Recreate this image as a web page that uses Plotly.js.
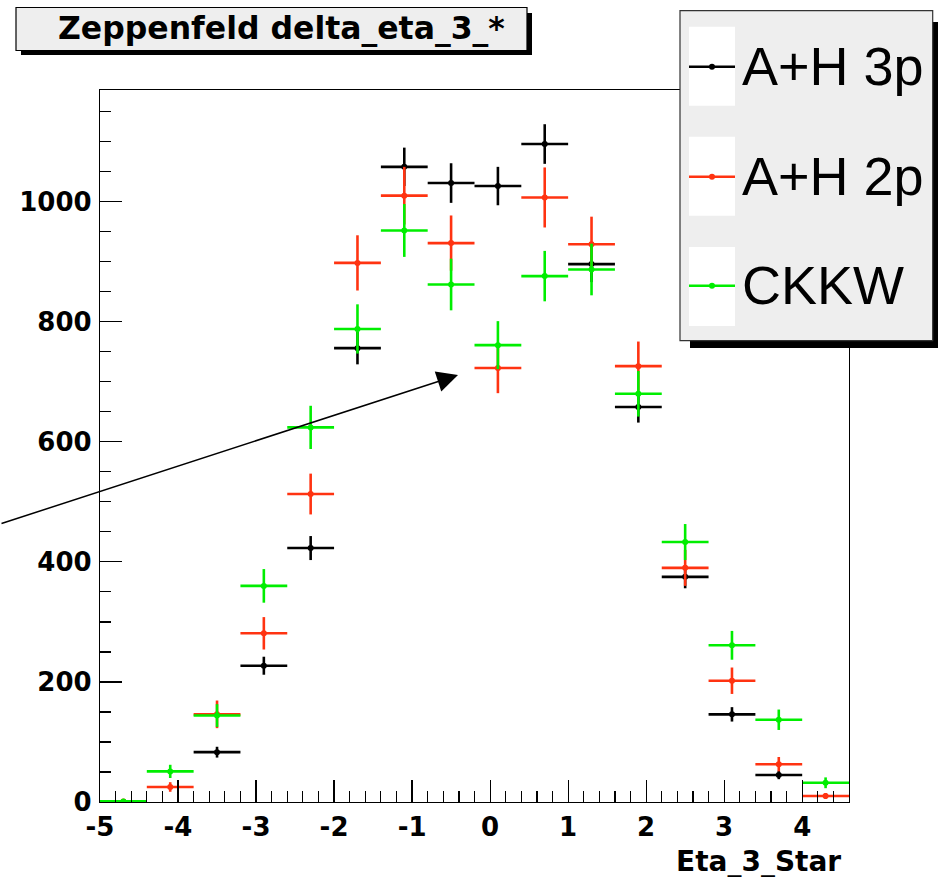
<!DOCTYPE html>
<html>
<head>
<meta charset="utf-8">
<script src="https://cdn.plot.ly/plotly-3.0.1.min.js"></script>
<style>html,body{margin:0;padding:0;background:#fff;}#chart{width:944px;height:877px;}</style>
</head>
<body>
<div id="chart"></div>
<script>
// ---- data ----
var binCenters = [-4.7, -4.1, -3.5, -2.9, -2.3, -1.7, -1.1, -0.5, 0.1, 0.7, 1.3, 1.9, 2.5, 3.1, 3.7, 4.3];
var binHalfWidth = 0.3;
var seriesNames = ["A+H 3p", "A+H 2p", "CKKW"];
var ah3pValues = [null, null, 83, 227, 423, 756, 1058, 1031, 1026, 1096, 896, 658, 375, 146, 45, null];
var ah3pErrors = [0, 0, 9, 15, 20, 27, 32, 33, 32, 33, 30, 26, 19, 12, 7, 0];
var ah2pValues = [1, 25, 146, 281, 513, 898, 1010, 931, 723, 1007, 929, 726, 390, 202, 63, 10];
var ah2pErrors = [1, 8, 23, 27, 34, 46, 48, 46, 42, 50, 46, 41, 30, 22, 12, 5];
var ckkwValues = [1, 51, 144, 360, 624, 788, 952, 862, 761, 876, 887, 680, 433, 261, 137, 32];
var ckkwErrors = [1, 11, 19, 28, 36, 41, 44, 43, 40, 42, 43, 38, 30, 24, 17, 9];
var xTickVals = [-5, -4, -3, -2, -1, 0, 1, 2, 3, 4];
var xTickText = ["-5", "-4", "-3", "-2", "-1", "0", "1", "2", "3", "4"];
var yTickVals = [0, 200, 400, 600, 800, 1000];
var yTickText = ["0", "200", "400", "600", "800", "1000"];
var chartTitle = "Zeppenfeld delta_eta_3_*";
var xTitle = "Eta_3_Star";

// ---- styling / layout ----
var colors = ["#000000", "#ff3311", "#00ee00"];
var L = 100, T = 90, W = 749, H = 712;
function px(x) { return (x - L) / W; }
function py(y) { return (T + H - y) / H; }

function makeTrace(vals, errs, i) {
  return {
    type: "scatter", mode: "markers", name: seriesNames[i],
    x: binCenters, y: vals,
    marker: {color: colors[i], size: 6},
    error_x: {type: "constant", value: binHalfWidth, width: 0, thickness: 2.6, color: colors[i]},
    error_y: {type: "data", array: errs, visible: true, width: 0, thickness: 2.6, color: colors[i]},
    showlegend: false, hoverinfo: "x+y"
  };
}
var data = [
  makeTrace(ah3pValues, ah3pErrors, 0),
  makeTrace(ah2pValues, ah2pErrors, 1),
  makeTrace(ckkwValues, ckkwErrors, 2)
];

var tickFont = {family: "DejaVu Sans", size: 26, color: "#000", weight: "bold"};
var shapes = [];
var annotations = [];

function rect(x0, y0, x1, y1, fill, line) {
  shapes.push({type: "rect", xref: "paper", yref: "paper", layer: "above",
    x0: px(x0), x1: px(x1), y0: py(y1), y1: py(y0),
    fillcolor: fill, line: line ? {color: line, width: 1.2} : {width: 0}});
}
// title box with shadow
rect(21, 13, 532, 55, "#000", null);
rect(16, 7.5, 527, 50.5, "#eeeeee", "#000");
annotations.push({xref: "paper", yref: "paper", x: px(281), y: py(28.5), xanchor: "center", yanchor: "middle",
  text: chartTitle, showarrow: false, font: {family: "DejaVu Sans", size: 31.5, color: "#000", weight: "bold"}});

// legend box with shadow
rect(690, 22, 938, 348, "#000", null);
rect(680, 10.7, 932.7, 340.7, "#eeeeee", "#333");
var rowTop = [26.7, 136.7, 247];
var rowLineY = [66.7, 176.7, 285.7];
for (var i = 0; i < 3; i++) {
  rect(689, rowTop[i], 735, rowTop[i] + 79, "#ffffff", null);
  shapes.push({type: "line", xref: "paper", yref: "paper", layer: "above",
    x0: px(689), x1: px(735), y0: py(rowLineY[i]), y1: py(rowLineY[i]),
    line: {color: colors[i], width: 2.6}});
  shapes.push({type: "circle", xref: "paper", yref: "paper", layer: "above",
    x0: px(709), x1: px(715), y0: py(rowLineY[i] + 3), y1: py(rowLineY[i] - 3),
    fillcolor: colors[i], line: {color: colors[i], width: 0}});
  annotations.push({xref: "paper", yref: "paper", x: px(740), y: py(rowLineY[i] - 1), xanchor: "left", yanchor: "middle",
    text: seriesNames[i], showarrow: false, font: {family: "Liberation Sans", size: 54, color: "#000"}});
}

// arrow
annotations.push({xref: "paper", yref: "paper", x: px(458), y: py(375), text: "", showarrow: true,
  axref: "pixel", ayref: "pixel", ax: -470, ay: 149, arrowhead: 2, arrowsize: 2.8, arrowwidth: 1.5,
  arrowcolor: "#000", standoff: 0});

// x-axis title (right aligned like ROOT)
annotations.push({xref: "paper", yref: "paper", x: px(843), y: py(861), xanchor: "right", yanchor: "middle",
  text: xTitle, showarrow: false, font: {family: "DejaVu Sans", size: 28, color: "#000", weight: "bold"}});

var layout = {
  width: 944, height: 877,
  margin: {l: L, r: 944 - L - W, t: T, b: 877 - T - H, pad: 0},
  paper_bgcolor: "#fff", plot_bgcolor: "#fff",
  showlegend: false,
  xaxis: {range: [-5, 4.6], tickvals: xTickVals, ticktext: xTickText, ticks: "inside", ticklen: 22, tickwidth: 1.2, tickcolor: "#000",
    showline: true, linecolor: "#000", linewidth: 1.2, mirror: true, showgrid: false, zeroline: false,
    tickfont: tickFont, ticklabelstandoff: 2,
    minor: {dtick: 0.2, tick0: -5, ticks: "inside", ticklen: 11, tickwidth: 1.2, tickcolor: "#000", showgrid: false}},
  yaxis: {range: [0, 1186], tickvals: yTickVals, ticktext: yTickText, ticks: "inside", ticklen: 22, tickwidth: 1.2, tickcolor: "#000",
    showline: true, linecolor: "#000", linewidth: 1.2, mirror: true, showgrid: false, zeroline: false,
    tickfont: tickFont, ticklabelstandoff: 2,
    minor: {dtick: 50, tick0: 0, ticks: "inside", ticklen: 11, tickwidth: 1.2, tickcolor: "#000", showgrid: false}},
  shapes: shapes,
  annotations: annotations
};

Plotly.newPlot("chart", data, layout, {staticPlot: true});
</script>
</body>
</html>
